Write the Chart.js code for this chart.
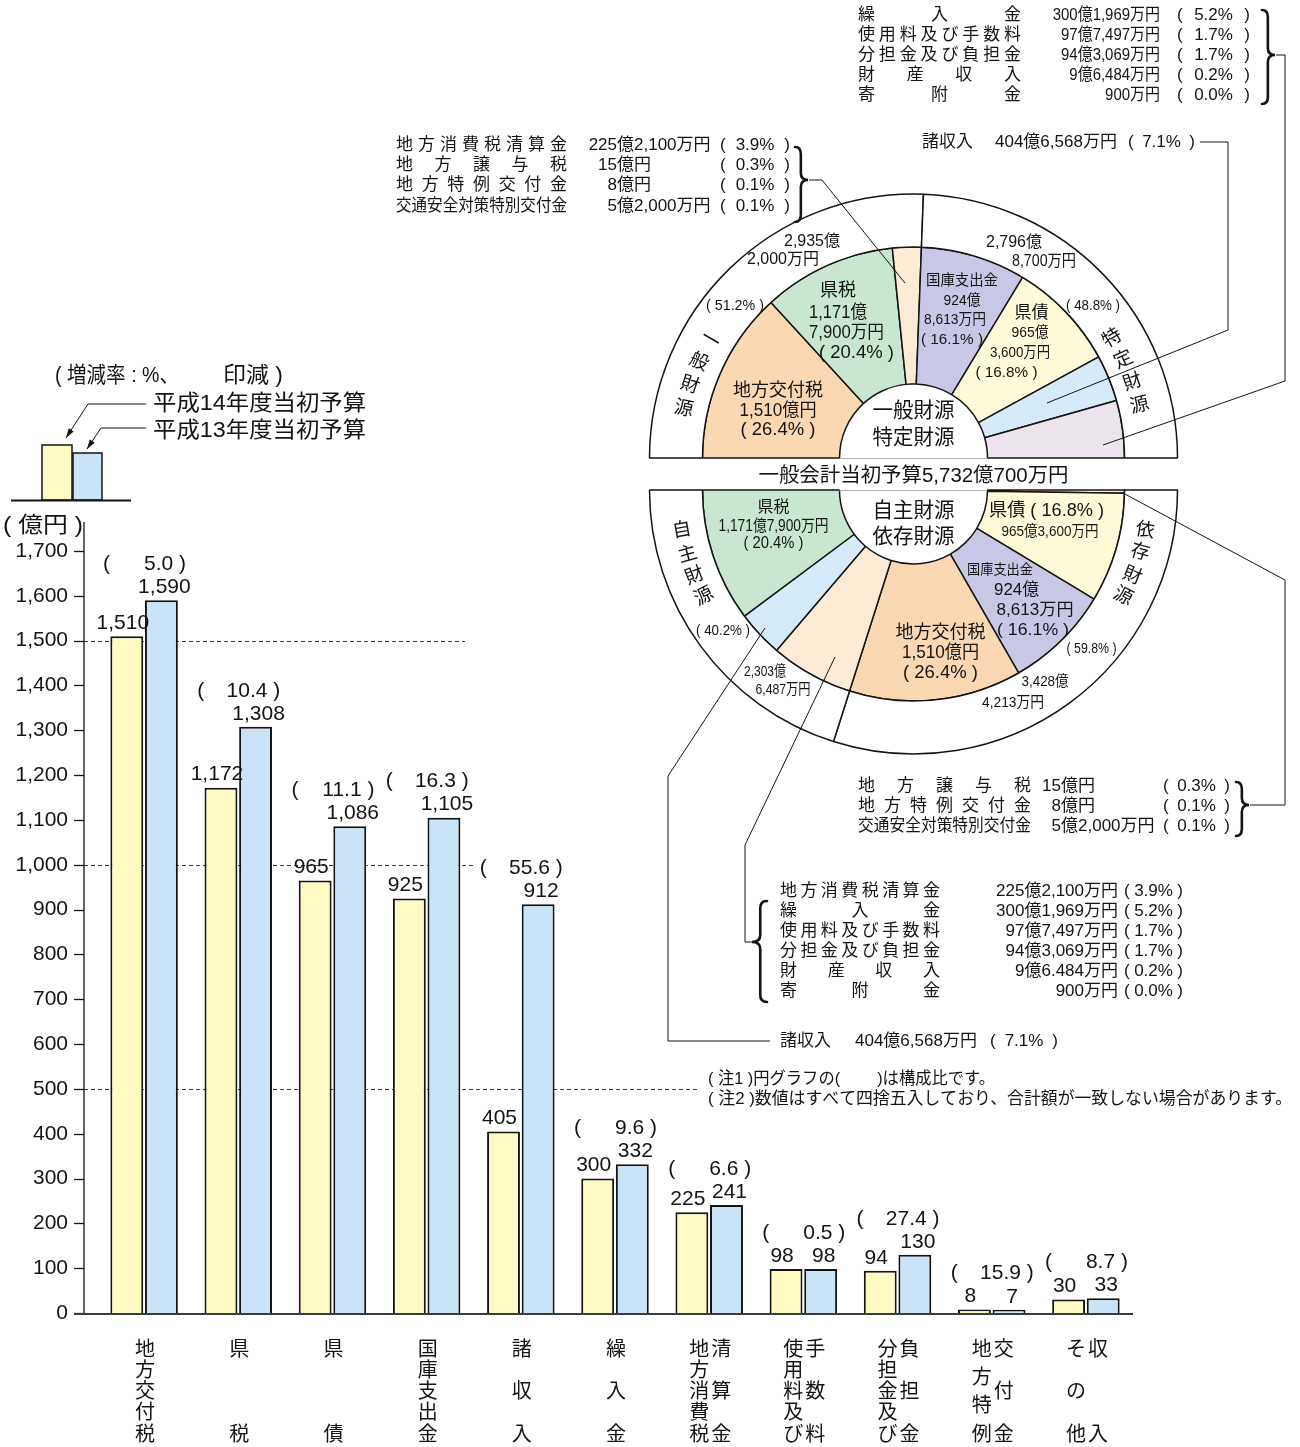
<!DOCTYPE html>
<html lang="ja">
<head>
<meta charset="utf-8">
<title>一般会計当初予算 歳入の状況</title>
<script src="https://cdn.jsdelivr.net/npm/chart.js@4.4.1/dist/chart.umd.min.js"></script>
<style>
  html, body { margin: 0; padding: 0; background: #fff; }
  #page { position: relative; width: 1300px; height: 1447px; overflow: hidden; background: #fff; }
  #page canvas { position: absolute; }
  #barChart { left: 0; top: 0; }
  #pieTop { left: 643px; top: 188px; }
  #pieBottom { left: 643px; top: 484px; }
  #annotations { left: 0; top: 0; pointer-events: none; }
</style>
</head>
<body>
<div id="page">
  <canvas id="barChart" width="1300" height="1447"></canvas>
  <canvas id="pieTop" width="541" height="276"></canvas>
  <canvas id="pieBottom" width="541" height="276"></canvas>
  <canvas id="annotations" width="1300" height="1447"></canvas>
</div>
<script>
// ---------- bar chart data (億円) ----------
const categories = ['地方交付税', '県税', '県債', '国庫支出金', '諸収入', '繰入金', '地方消費税清算金', '使用料及び手数料', '分担金及び負担金', '地方特例交付金', 'その他収入'];
const categoryColumns = [['地方交付税'], ['県税'], ['県債'], ['国庫支出金'], ['諸収入'], ['繰入金'], ['地方消費税', '清算金'], ['使用料及び', '手数料'], ['分担金及び', '負担金'], ['地方特例', '交付金'], ['その他', '収入']];
const budgetH14 = [1510, 1172, 965, 925, 405, 300, 225, 98, 94, 8, 30];
const budgetH13 = [1590, 1308, 1086, 1105, 912, 332, 241, 98, 130, 7, 33];
const changeRate = ['5.0', '10.4', '11.1', '16.3', '55.6', '9.6', '6.6', '0.5', '27.4', '15.9', '8.7'];
const yMin = 0, yMax = 1700, yStep = 100;
const guideValues = [500, 1000, 1500];

// ---------- composition (構成比 %) ----------
const topRingLabels = ['一般財源', '特定財源'];
const topRingShare = [51.2, 48.8];
const topSliceLabels = ['地方交付税', '県税', '地方消費税清算金ほか', '国庫支出金', '県債', '諸収入', '繰入金ほか'];
const topSliceShare = [26.4, 20.4, 4.4, 16.1, 16.8, 7.1, 8.8];
const bottomRingLabels = ['依存財源', '自主財源'];
const bottomRingShare = [59.8, 40.2];
const bottomSliceLabels = ['地方譲与税ほか', '県債', '国庫支出金', '地方交付税', '地方消費税清算金ほか', '諸収入', '県税'];
const bottomSliceShare = [0.5, 16.8, 16.1, 26.4, 12.7, 7.1, 20.4];

// ---------- itemised lists ----------
const listTopLeft = [['地方消費税清算金', '225億2,100万円', '3.9'], ['地方譲与税', '15億円', '0.3'], ['地方特例交付金', '8億円', '0.1'], ['交通安全対策特別交付金', '5億2,000万円', '0.1']];
const listTopRight = [['繰入金', '300億1,969万円', '5.2'], ['使用料及び手数料', '97億7,497万円', '1.7'], ['分担金及び負担金', '94億3,069万円', '1.7'], ['財産収入', '9億6,484万円', '0.2'], ['寄附金', '900万円', '0.0']];
const listBottomRight = [['地方譲与税', '15億円', '0.3'], ['地方特例交付金', '8億円', '0.1'], ['交通安全対策特別交付金', '5億2,000万円', '0.1']];
const listBottomLeft = [['地方消費税清算金', '225億2,100万円', '3.9'], ['繰入金', '300億1,969万円', '5.2'], ['使用料及び手数料', '97億7,497万円', '1.7'], ['分担金及び負担金', '94億3,069万円', '1.7'], ['財産収入', '9億6.484万円', '0.2'], ['寄附金', '900万円', '0.0']];
const miscIncome = ['諸収入', '404億6,568万円', '7.1'];

// ---------- styling ----------
const INK = '#141414';
const FONT = '"Liberation Sans", Arial, "Noto Sans CJK JP", sans-serif';
const COLOR_H14 = '#fff9c4';
const COLOR_H13 = '#c9e4f6';
const sliceColor = {
  '地方交付税': '#fbd8b2',
  '県税': '#c9e6d0',
  '地方消費税清算金ほか': '#fdebd6',
  '地方譲与税ほか': '#fdebd6',
  '繰入金ほか': '#ece5ee',
  '国庫支出金': '#c8c8e6',
  '県債': '#fffbd9',
  '諸収入': '#d6ebf9'
};
Chart.defaults.font.family = FONT;
Chart.defaults.color = INK;

// text helper: optional horizontal fit to a target width
function label(ctx, s, x, y, o = {}) {
  const size = o.size || 17;
  ctx.save();
  ctx.font = `${size}px ${FONT}`;
  ctx.fillStyle = o.color || INK;
  ctx.textBaseline = 'middle';
  ctx.textAlign = 'left';
  const natural = ctx.measureText(s).width;
  const sx = o.w ? o.w / natural : (o.sx || 1);
  const width = natural * sx;
  let left = x;
  if (o.align === 'center') left = x - width / 2;
  else if (o.align === 'right') left = x - width;
  ctx.translate(left, y);
  ctx.scale(sx, 1);
  ctx.fillText(s, 0, 0);
  ctx.restore();
  return width;
}

// characters spread evenly between x0 and x1
function spread(ctx, s, x0, x1, y, size) {
  const chars = [...s];
  ctx.save();
  ctx.font = `${size}px ${FONT}`;
  const widths = chars.map(c => ctx.measureText(c).width);
  ctx.restore();
  const total = widths.reduce((a, b) => a + b, 0);
  const avail = x1 - x0;
  if (total >= avail || chars.length < 2) { label(ctx, s, x0, y, { size, w: Math.min(total, avail) }); return; }
  const gap = (avail - total) / (chars.length - 1);
  let x = x0;
  chars.forEach((c, i) => { label(ctx, c, x, y, { size }); x += widths[i] + gap; });
}

// "( n% )" with the brackets at fixed positions
function percent(ctx, pct, pl, pr, y, size) {
  label(ctx, '(', pl, y, { size });
  label(ctx, ')', pr, y, { size, align: 'right' });
  label(ctx, `${pct}%`, (pl + pr) / 2, y, { size, align: 'center' });
}

function polyline(ctx, pts, width = 1) {
  ctx.save();
  ctx.strokeStyle = INK; ctx.lineWidth = width;
  ctx.beginPath();
  pts.forEach(([x, y], i) => i ? ctx.lineTo(x, y) : ctx.moveTo(x, y));
  ctx.stroke();
  ctx.restore();
}

function brace(ctx, x, y0, y1, ym, dir, w = 13) {
  const xm = x + dir * w * 0.45, xt = x + dir * w;
  const r = 7;
  ctx.save();
  ctx.strokeStyle = INK; ctx.lineWidth = 2.6; ctx.lineCap = 'round';
  ctx.beginPath();
  ctx.moveTo(x, y0);
  ctx.quadraticCurveTo(xm, y0, xm, y0 + r);
  ctx.lineTo(xm, ym - r);
  ctx.quadraticCurveTo(xm, ym, xt, ym);
  ctx.quadraticCurveTo(xm, ym, xm, ym + r);
  ctx.lineTo(xm, y1 - r);
  ctx.quadraticCurveTo(xm, y1, x, y1);
  ctx.stroke();
  ctx.restore();
}

function arrow(ctx, pts) {
  polyline(ctx, pts, 1);
  const [x1, y1] = pts[pts.length - 2], [x2, y2] = pts[pts.length - 1];
  const a = Math.atan2(y2 - y1, x2 - x1);
  ctx.save();
  ctx.fillStyle = INK;
  ctx.beginPath();
  ctx.moveTo(x2, y2);
  ctx.lineTo(x2 - 10 * Math.cos(a - 0.3), y2 - 10 * Math.sin(a - 0.3));
  ctx.lineTo(x2 - 10 * Math.cos(a + 0.3), y2 - 10 * Math.sin(a + 0.3));
  ctx.closePath(); ctx.fill();
  ctx.restore();
}

// ---------- bar chart decorations ----------
const barDecor = {
  id: 'barDecor',
  beforeDatasetsDraw(chart) {
    const { ctx, scales: { y } } = chart;
    const axisX = chart.chartArea.left - 13;
    const guideEnds = { 500: 700, 1000: 476, 1500: 465 };
    ctx.save();
    ctx.strokeStyle = '#3a3a3a'; ctx.lineWidth = 1; ctx.setLineDash([4, 3]);
    guideValues.forEach(v => {
      const py = Math.round(y.getPixelForValue(v)) + 0.5;
      ctx.beginPath(); ctx.moveTo(axisX, py); ctx.lineTo(guideEnds[v], py); ctx.stroke();
    });
    ctx.restore();
  },
  afterDatasetsDraw(chart) {
    const { ctx, scales: { x, y }, chartArea } = chart;
    const axisX = chartArea.left - 13;
    const base = y.getPixelForValue(0);

    // axis, ticks, baseline
    ctx.save();
    ctx.strokeStyle = INK; ctx.lineWidth = 1.3;
    ctx.beginPath(); ctx.moveTo(axisX, chartArea.top - 29); ctx.lineTo(axisX, base); ctx.stroke();
    for (let v = yMin; v <= yMax; v += yStep) {
      const py = Math.round(y.getPixelForValue(v)) + 0.5;
      ctx.beginPath(); ctx.moveTo(axisX - 10, py); ctx.lineTo(axisX, py); ctx.stroke();
    }
    ctx.strokeStyle = '#3c3c3c'; ctx.lineWidth = 2;
    ctx.beginPath(); ctx.moveTo(axisX - 10, base + 1); ctx.lineTo(chartArea.right, base + 1); ctx.stroke();
    ctx.restore();

    // value labels
    const m0 = chart.getDatasetMeta(0).data, m1 = chart.getDatasetMeta(1).data;
    m0.forEach((bar, i) => label(ctx, budgetH14[i].toLocaleString('en-US'), bar.x - 4, bar.y - 13, { size: 21, align: 'center' }));
    m1.forEach((bar, i) => label(ctx, budgetH13[i].toLocaleString('en-US'), bar.x + 3, bar.y - 13, { size: 21, align: 'center' }));

    // rate of change labels
    changeRate.forEach((r, i) => {
      const cx = x.getPixelForValue(i);
      const py = Math.min(m0[i].y, m1[i].y) - 36;
      label(ctx, '(', cx - 41, py, { size: 21 });
      label(ctx, `${r} )`, cx + 42, py, { size: 21, align: 'right' });
    });

    // vertical category names
    categoryColumns.forEach((cols, i) => {
      const cx = x.getPixelForValue(i);
      const offs = cols.length === 1 ? [0] : [-11, 11];
      cols.forEach((col, c) => {
        const chars = [...col];
        chars.forEach((ch, k) => {
          const py = base + 37 + (chars.length === 1 ? 0 : k * 85 / (chars.length - 1));
          label(ctx, ch, cx + offs[c] + 1, py, { size: 20, align: 'center' });
        });
      });
    });

    // unit
    label(ctx, '( 億円 )', 3, 526, { size: 22, w: 80 });

    // legend sample
    ctx.save();
    ctx.lineWidth = 1.5; ctx.strokeStyle = INK;
    ctx.fillStyle = COLOR_H14; ctx.fillRect(42, 445, 30, 55); ctx.strokeRect(42, 445, 30, 55);
    ctx.fillStyle = COLOR_H13; ctx.fillRect(73, 453, 29, 47); ctx.strokeRect(73, 453, 29, 47);
    ctx.lineWidth = 2;
    ctx.beginPath(); ctx.moveTo(11, 500.5); ctx.lineTo(131, 500.5); ctx.stroke();
    ctx.restore();
    label(ctx, '( 増減率 : %、', 55, 376, { size: 22, w: 124 });
    label(ctx, '印減 )', 283, 376, { size: 22, align: 'right', w: 60 });
    label(ctx, '平成14年度当初予算', 153, 404, { size: 22, w: 213 });
    label(ctx, '平成13年度当初予算', 153, 431, { size: 22, w: 213 });
    arrow(ctx, [[146, 404], [88, 404], [66, 438]]);
    arrow(ctx, [[146, 428], [101, 428], [87, 449]]);
  }
};

const barChart = new Chart(document.getElementById('barChart'), {
  type: 'bar',
  data: {
    labels: categories,
    datasets: [
      { label: '平成14年度当初予算', data: budgetH14, backgroundColor: COLOR_H14, borderColor: INK, borderWidth: 2 },
      { label: '平成13年度当初予算', data: budgetH13, backgroundColor: COLOR_H13, borderColor: INK, borderWidth: 2 }
    ]
  },
  options: {
    responsive: false, animation: false, devicePixelRatio: 1, events: [], locale: 'en-US',
    layout: { padding: { left: 0, right: 167, top: 551, bottom: 134 } },
    datasets: { bar: { categoryPercentage: 0.735, barPercentage: 0.95 } },
    scales: {
      x: { offset: true, grid: { display: false }, border: { display: false }, ticks: { display: false },
           afterFit(s) { s.height = 0; } },
      y: { min: yMin, max: yMax, grid: { display: false, drawTicks: false }, border: { display: false },
           ticks: { stepSize: yStep, padding: 29, color: INK, font: { family: FONT, size: 21 } },
           afterFit(s) { s.width = 97; } }
    },
    plugins: { legend: { display: false }, tooltip: { enabled: false } }
  },
  plugins: [barDecor]
});

// ---------- half doughnuts ----------
function halfDoughnut(id, ringShare, sliceLabels, sliceShare, rotation) {
  return new Chart(document.getElementById(id), {
    type: 'doughnut',
    data: {
      labels: sliceLabels,
      datasets: [
        { data: ringShare, backgroundColor: '#ffffff', borderColor: INK, borderWidth: 1.5, weight: 53 },
        { data: sliceShare, backgroundColor: sliceLabels.map(n => sliceColor[n]), borderColor: INK, borderWidth: 1.5, weight: 137 }
      ]
    },
    options: {
      responsive: false, animation: false, devicePixelRatio: 1, events: [],
      rotation, circumference: 180, radius: 264, cutout: '28.03%',
      plugins: { legend: { display: false }, tooltip: { enabled: false } }
    }
  });
}
const pieTop = halfDoughnut('pieTop', topRingShare, topSliceLabels, topSliceShare, 270);
const pieBottom = halfDoughnut('pieBottom', bottomRingShare, bottomSliceLabels, bottomSliceShare, 90);

// ---------- annotations over the doughnuts ----------
function arcWord(ctx, word, c, r, angles, side, size) {
  const sxn = side[1] === 'l' ? -1 : 1;
  const syn = side[0] === 'u' ? -1 : 1;
  [...word].forEach((ch, i) => {
    const t = angles[i] * Math.PI / 180;
    const px = c.x + sxn * r * Math.cos(t);
    const py = c.y + syn * r * Math.sin(t);
    const rot = sxn * syn === 1 ? t : -t;
    ctx.save();
    ctx.translate(px, py); ctx.rotate(rot);
    ctx.font = `${size}px ${FONT}`; ctx.fillStyle = INK;
    ctx.textAlign = 'center'; ctx.textBaseline = 'middle';
    ctx.fillText(ch, 0, 0);
    ctx.restore();
  });
}

function drawList(ctx, rows, o) {
  rows.forEach(([name, value, pct], i) => {
    const py = o.y0 + i * o.dy;
    spread(ctx, name, o.l0, o.l1, py, o.size);
    const sx = o.sx || 1;
    if (o.oku) {
      const k = value.indexOf('億');
      label(ctx, value.slice(0, k), o.oku, py, { size: o.size, align: 'right', sx });
      label(ctx, value.slice(k), o.oku, py, { size: o.size, sx });
    } else {
      label(ctx, value, o.vr, py, { size: o.size, align: 'right', sx });
    }
    percent(ctx, pct, o.pl, o.pr, py, o.size);
  });
}

function drawAnnotations() {
  const ctx = document.getElementById('annotations').getContext('2d');
  const centerOf = chart => {
    const arc = chart.getDatasetMeta(0).data[0];
    return { x: chart.canvas.offsetLeft + arc.x, y: chart.canvas.offsetTop + arc.y };
  };
  const T = centerOf(pieTop), B = centerOf(pieBottom);
  const put = (c, s, dx, dy, o) => label(ctx, s, c.x + dx, c.y + dy, Object.assign({ align: 'center' }, o));

  // faint base lines across the centre discs
  ctx.save();
  ctx.strokeStyle = '#b0b0b0'; ctx.lineWidth = 1;
  [T, B].forEach(c => { ctx.beginPath(); ctx.moveTo(c.x - 74, c.y + 0.5); ctx.lineTo(c.x + 74, c.y + 0.5); ctx.stroke(); });
  ctx.restore();

  // upper half: 一般財源 / 特定財源
  put(T, '2,935億', -101.5, -216, { size: 16 });
  put(T, '2,000万円', -130.5, -198, { size: 16 });
  put(T, '( 51.2% )', -178.5, -152, { size: 15, w: 58 });
  put(T, '2,796億', 100.5, -215, { size: 16 });
  put(T, '8,700万円', 130.5, -196, { size: 16, w: 64 });
  put(T, '( 48.8% )', 179.5, -152, { size: 15, w: 54 });
  arcWord(ctx, '一般財源', T, 235, [30, 24, 18, 12], 'ul', 19);
  arcWord(ctx, '特定財源', T, 232, [31, 25, 19, 13], 'ur', 19);
  put(T, '地方交付税', -135.5, -66.5, { size: 18 });
  put(T, '1,510億円', -135.5, -46.5, { size: 18, w: 77 });
  put(T, '( 26.4% )', -135.5, -27.5, { size: 18, w: 75 });
  put(T, '県税', -75.5, -166.5, { size: 18 });
  put(T, '1,171億', -75.5, -145, { size: 18, w: 58 });
  put(T, '7,900万円', -67, -125, { size: 18, w: 75 });
  put(T, '( 20.4% )', -57, -105, { size: 18, w: 75 });
  put(T, '国庫支出金', 48.5, -177, { size: 15, w: 72 });
  put(T, '924億', 48.5, -157, { size: 15, w: 37 });
  put(T, '8,613万円', 41.5, -138, { size: 15, w: 62 });
  put(T, '( 16.1% )', 38.5, -118, { size: 15, w: 62 });
  put(T, '県債', 118, -145, { size: 17 });
  put(T, '965億', 116.5, -125, { size: 15, w: 37 });
  put(T, '3,600万円', 106.5, -105, { size: 15, w: 60 });
  put(T, '( 16.8% )', 93, -85, { size: 15, w: 62 });
  put(T, '一般財源', 0, -46.5, { size: 21, w: 82 });
  put(T, '特定財源', 0, -20, { size: 21, w: 82 });
  put(T, '一般会計当初予算5,732億700万円', 0, 18, { size: 20, w: 310 });

  // lower half: 自主財源 / 依存財源
  put(B, '県税', -140, 18, { size: 16 });
  put(B, '1,171億7,900万円', -140, 37, { size: 16, w: 110 });
  put(B, '( 20.4% )', -140, 53.5, { size: 16, w: 60 });
  put(B, '自主財源', 0, 21.5, { size: 21, w: 82 });
  put(B, '依存財源', 0, 47, { size: 21, w: 82 });
  arcWord(ctx, '自主財源', B, 235, [10, 16, 21.5, 27], 'll', 19);
  arcWord(ctx, '依存財源', B, 235, [10, 15.5, 21.5, 27], 'lr', 19);
  put(B, '( 40.2% )', -190.5, 141.5, { size: 14, w: 54 });
  put(B, '2,303億', -148.5, 181.5, { size: 15, w: 42 });
  put(B, '6,487万円', -130.5, 199.5, { size: 15, w: 55 });
  put(B, '地方交付税', 27, 143, { size: 18 });
  put(B, '1,510億円', 27, 163, { size: 18, w: 77 });
  put(B, '( 26.4% )', 27, 183, { size: 18, w: 75 });
  put(B, '国庫支出金', 86.5, 80, { size: 14, w: 66 });
  put(B, '924億', 103, 100, { size: 17, w: 45 });
  put(B, '8,613万円', 121.5, 120, { size: 17, w: 77 });
  put(B, '( 16.1% )', 119.5, 140, { size: 17, w: 72 });
  put(B, '県債 ( 16.8% )', 133, 21.5, { size: 18, w: 115 });
  put(B, '965億3,600万円', 136.5, 41.5, { size: 15, w: 97 });
  put(B, '( 59.8% )', 178, 159.5, { size: 14, w: 50 });
  put(B, '3,428億', 131.5, 191.5, { size: 15, w: 47 });
  put(B, '4,213万円', 99.5, 213, { size: 15, w: 62 });

  // leader lines
  polyline(ctx, [[809, 180], [822, 180], [905, 283]]);
  polyline(ctx, [[1200, 142], [1228, 142], [1228, 330], [1047, 403]]);
  polyline(ctx, [[1276, 55], [1285, 55], [1285, 381], [1103, 445]]);
  polyline(ctx, [[1250, 805], [1285, 805], [1285, 580], [1123, 493]]);
  polyline(ctx, [[765, 628], [668, 776], [668, 1041], [770, 1041]]);
  polyline(ctx, [[835, 657], [745, 845], [745, 942], [752, 942]]);

  // braces
  brace(ctx, 795, 147, 222, 180, 1);
  brace(ctx, 1262, 10, 104, 55, 1);
  brace(ctx, 1236, 782, 836, 805, 1);
  brace(ctx, 767, 901, 1002, 942, -1, 15);

  // itemised lists
  drawList(ctx, listTopRight, { y0: 15, dy: 20, l0: 858, l1: 1021, vr: 1160, sx: 0.88, pl: 1177, pr: 1250, size: 17 });
  drawList(ctx, listTopLeft, { y0: 145, dy: 20.3, l0: 396, l1: 567, oku: 617, pl: 720, pr: 790, size: 17 });
  drawList(ctx, listBottomRight, { y0: 786, dy: 20, l0: 858, l1: 1031, oku: 1061, pl: 1163, pr: 1230, size: 17 });
  drawList(ctx, listBottomLeft, { y0: 891, dy: 20.1, l0: 780, l1: 940, vr: 1118, pl: 1124, pr: 1183, size: 17 });
  const [mName, mValue, mPct] = miscIncome;
  label(ctx, mName, 922, 142, { size: 17 });
  label(ctx, mValue, 995, 142, { size: 17 });
  percent(ctx, mPct, 1128, 1195, 142, 17);
  label(ctx, mName, 780, 1041, { size: 17 });
  label(ctx, mValue, 855, 1041, { size: 17 });
  percent(ctx, mPct, 990, 1058, 1041, 17);

  // notes
  label(ctx, '( 注1 )円グラフの(　　 )は構成比です。', 708, 1079, { size: 17, w: 287 });
  label(ctx, '( 注2 )数値はすべて四捨五入しており、合計額が一致しない場合があります。', 708, 1099, { size: 17, w: 584 });
}
drawAnnotations();
</script>
</body>
</html>
